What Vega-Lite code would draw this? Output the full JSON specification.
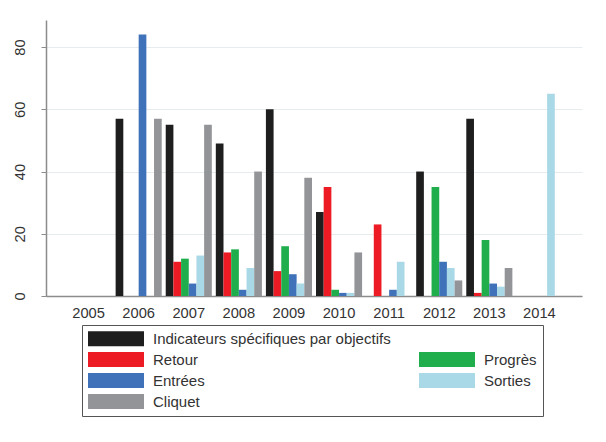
{
  "$schema": "https://vega.github.io/schema/vega-lite/v6.json",
  "width": 536,
  "height": 276,
  "autosize": {"type": "none"},
  "padding": {"left": 46, "top": 20, "right": 24, "bottom": 146},
  "background": "#ffffff",
  "config": {
    "view": {"stroke": null},
    "font": "Liberation Sans",
    "axis": {"labelFont": "Liberation Sans", "labelFontSize": 14.7, "labelColor": "#333333", "domainColor": "#8c8c8c", "domainWidth": 1.5, "tickColor": "#8c8c8c"}
  },
  "data": {
    "values": [
      {"year": "2005", "series": "Indicateurs spécifiques par objectifs", "value": 0},
      {"year": "2006", "series": "Indicateurs spécifiques par objectifs", "value": 57},
      {"year": "2006", "series": "Entrées", "value": 84},
      {"year": "2006", "series": "Cliquet", "value": 57},
      {"year": "2007", "series": "Indicateurs spécifiques par objectifs", "value": 55},
      {"year": "2007", "series": "Retour", "value": 11},
      {"year": "2007", "series": "Progrès", "value": 12},
      {"year": "2007", "series": "Entrées", "value": 4},
      {"year": "2007", "series": "Sorties", "value": 13},
      {"year": "2007", "series": "Cliquet", "value": 55},
      {"year": "2008", "series": "Indicateurs spécifiques par objectifs", "value": 49},
      {"year": "2008", "series": "Retour", "value": 14},
      {"year": "2008", "series": "Progrès", "value": 15},
      {"year": "2008", "series": "Entrées", "value": 2},
      {"year": "2008", "series": "Sorties", "value": 9},
      {"year": "2008", "series": "Cliquet", "value": 40},
      {"year": "2009", "series": "Indicateurs spécifiques par objectifs", "value": 60},
      {"year": "2009", "series": "Retour", "value": 8},
      {"year": "2009", "series": "Progrès", "value": 16},
      {"year": "2009", "series": "Entrées", "value": 7},
      {"year": "2009", "series": "Sorties", "value": 4},
      {"year": "2009", "series": "Cliquet", "value": 38},
      {"year": "2010", "series": "Indicateurs spécifiques par objectifs", "value": 27},
      {"year": "2010", "series": "Retour", "value": 35},
      {"year": "2010", "series": "Progrès", "value": 2},
      {"year": "2010", "series": "Entrées", "value": 1},
      {"year": "2010", "series": "Sorties", "value": 1},
      {"year": "2010", "series": "Cliquet", "value": 14},
      {"year": "2011", "series": "Retour", "value": 23},
      {"year": "2011", "series": "Entrées", "value": 2},
      {"year": "2011", "series": "Sorties", "value": 11},
      {"year": "2012", "series": "Indicateurs spécifiques par objectifs", "value": 40},
      {"year": "2012", "series": "Progrès", "value": 35},
      {"year": "2012", "series": "Entrées", "value": 11},
      {"year": "2012", "series": "Sorties", "value": 9},
      {"year": "2012", "series": "Cliquet", "value": 5},
      {"year": "2013", "series": "Indicateurs spécifiques par objectifs", "value": 57},
      {"year": "2013", "series": "Retour", "value": 1},
      {"year": "2013", "series": "Progrès", "value": 18},
      {"year": "2013", "series": "Entrées", "value": 4},
      {"year": "2013", "series": "Sorties", "value": 3},
      {"year": "2013", "series": "Cliquet", "value": 9},
      {"year": "2014", "series": "Sorties", "value": 65}
    ]
  },
  "mark": {"type": "bar", "width": {"band": 1}},
  "encoding": {
    "x": {
      "field": "year",
      "type": "nominal",
      "scale": {"paddingInner": 0.08, "paddingOuter": 0.39},
      "axis": {"title": null, "labelAngle": 0, "ticks": false, "grid": false, "labelPadding": 9}
    },
    "xOffset": {
      "field": "series",
      "type": "nominal",
      "sort": ["Indicateurs spécifiques par objectifs", "Retour", "Progrès", "Entrées", "Sorties", "Cliquet"],
      "scale": {"domain": ["Indicateurs spécifiques par objectifs", "Retour", "Progrès", "Entrées", "Sorties", "Cliquet"], "paddingInner": 0, "paddingOuter": 0}
    },
    "y": {
      "field": "value",
      "type": "quantitative",
      "scale": {"domain": [0, 88.7], "nice": false},
      "axis": {"title": null, "values": [0, 20, 40, 60, 80], "labelAngle": -90, "labelAlign": "center", "labelBaseline": "bottom", "labelPadding": 14, "tickSize": 5, "grid": true, "gridColor": "#e6ecee", "gridWidth": 1}
    },
    "color": {
      "field": "series",
      "type": "nominal",
      "scale": {
        "domain": ["Indicateurs spécifiques par objectifs", "Retour", "Entrées", "Cliquet", " ", "Progrès", "Sorties"],
        "range": ["#1e1e1e", "#ed1c24", "#3f72b9", "#929497", "#ffffff", "#1fae4b", "#a9d8e6"]
      },
      "legend": {
        "title": null,
        "orient": "none",
        "legendX": 36,
        "legendY": 305,
        "columns": 2,
        "columnPadding": 28,
        "rowPadding": 5,
        "padding": 6,
        "strokeColor": "#555555",
        "symbolType": "M-3.733,-1H3.733V1H-3.733Z",
        "symbolSize": 225,
        "symbolOffset": 20.5,
        "symbolStrokeWidth": 0,
        "symbolOpacity": 1,
        "labelFont": "Liberation Sans",
        "labelFontSize": 15,
        "labelColor": "#333333",
        "labelOffset": 29.5,
        "labelLimit": 400
      }
    }
  }
}
